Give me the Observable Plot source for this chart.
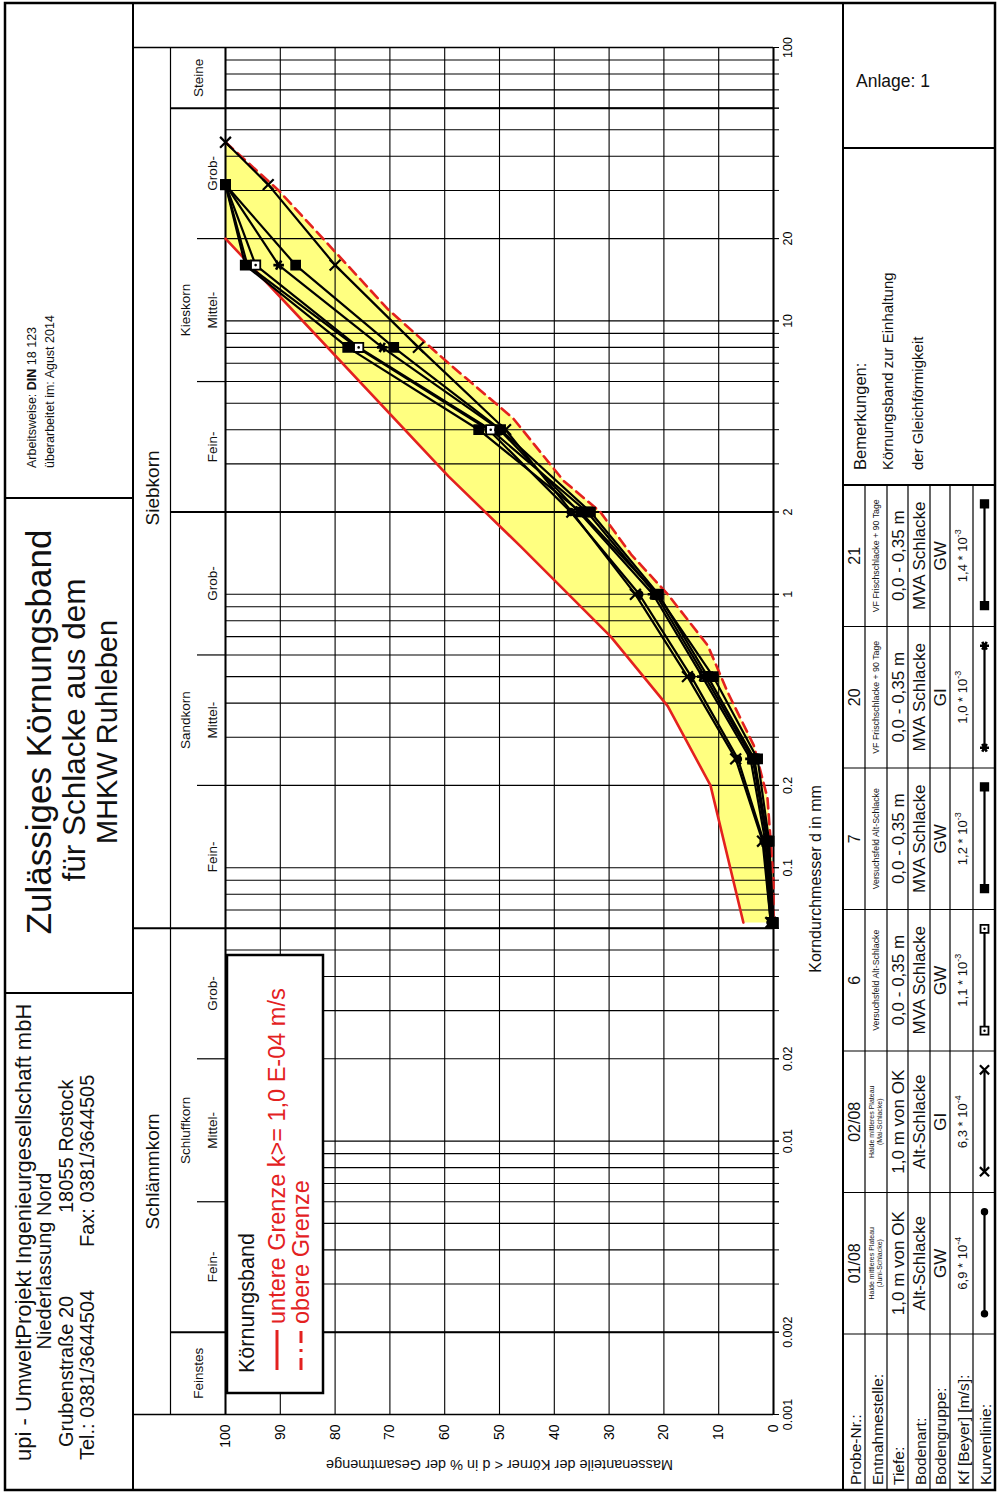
<!DOCTYPE html>
<html>
<head>
<meta charset="utf-8">
<script src="https://cdn.jsdelivr.net/npm/d3@7"></script>
<script src="https://cdn.jsdelivr.net/npm/@observablehq/plot@0.6"></script>
<style>
html,body{margin:0;padding:0;background:#fff;width:997px;height:1494px;overflow:hidden;}
#page{position:absolute;left:0;top:0;width:1494px;height:997px;transform-origin:0 0;transform:translate(0px,1494px) rotate(-90deg);background:#fff;font-family:"Liberation Sans",Arial,Helvetica,sans-serif;}
#page svg{position:absolute;left:0;top:0;overflow:visible;}
#chart{position:absolute;left:5px;top:133px;width:1486px;height:710px;}
#chart svg{position:absolute;left:0;top:0;}
.cell{position:absolute;}
</style>
</head>
<body>
<div id="page"><div id="chart"></div></div>
<script>
// ---------------- DATA ----------------
const diamTicks = [0.001,0.002,0.006,0.01,0.02,0.06,0.1,0.2,0.6,1,2,6,10,20,60,100];
const gridMantissas = [1,2,3,4,5,6,7,8,9];
const gridDecades = [0.001,0.01,0.1,1,10];
const percentTicks = [0,10,20,30,40,50,60,70,80,90,100];
const mainBounds = [0.002,2,60];
const siltSandBound = [0.06];
const subBounds = [0.006,0.02,0.2,0.6,6,20];

const groupLabels = ["Schlämmkorn","Siebkorn"];
const groupFrom = [0.001,0.06];
const groupTo = [0.06,100];
const fractionLabels = ["Schluffkorn","Sandkorn","Kieskorn"];
const fractionFrom = [0.002,0.06,2];
const fractionTo = [0.06,2,60];
const spanLabels = ["Feinstes","Steine"];
const spanFrom = [0.001,60];
const spanTo = [0.002,100];
const subLabels = ["Fein-","Mittel-","Grob-","Fein-","Mittel-","Grob-","Fein-","Mittel-","Grob-"];
const subFrom = [0.002,0.006,0.02,0.06,0.2,0.6,2,6,20];
const subTo = [0.006,0.02,0.06,0.2,0.6,2,6,20,60];

// Körnungsband limits
const lowerLimitD = [20, 2.7, 1.5, 0.7, 0.39, 0.2, 0.063];
const lowerLimitP = [100, 59.3, 46.2, 29.7, 19.3, 11.5, 5.5];
const upperLimitD = [45, 30, 11, 7, 4.4, 2.6, 2.0, 1.4, 1.0, 0.65, 0.44, 0.28, 0.18, 0.09, 0.063];
const upperLimitP = [100, 90.3, 70.3, 59.3, 47.5, 38.3, 31.6, 26, 19.3, 12, 8.4, 3.6, 1.1, 0, 0];

// samples
const sieves = [45, 31.5, 16, 8, 4, 2, 1, 0.5, 0.25, 0.125, 0.063];
const sampleIds = ["01/08","02/08","6","7","20","21"];
const s0108 = [null, 100, 96, 76, 52, 37, 24.5, 15, 6.5, 1.8, 0.5];
const s0208 = [100, 92.2, 80, 64.8, 48.9, 36.8, 25.2, 15.7, 6.9, 2, 0.5];
const s6    = [null, 100, 94.5, 75.7, 51.6, 34, 21.5, 12.5, 3.8, 1.2, 0.2];
const s7    = [null, 100, 96.4, 77.7, 53.8, 35.2, 21.2, 11, 2.9, 0.8, 0];
const s20   = [null, 100, 90.3, 71.4, 50, 35.5, 22, 13, 4.2, 1.5, 0.3];
const s21   = [null, 100, 87.2, 69.3, 49.8, 33.4, 21, 12, 3.5, 1, 0.2];
const sampleValues = [s0108, s0208, s6, s7, s20, s21];
const sampleSymbols = ["circle","times","square","square","asterisk","square"];

// table
const rowLabels = ["Probe-Nr.:","Entnahmestelle:","Tiefe:","Bodenart:","Bodengruppe:","Kf [Beyer] [m/s]:","Kurvenlinie:"];
const entnahme = [["Halde mittleres Plateau","(Juni-Schlacke)"],["Halde mittleres Plateau","(Mai-Schlacke)"],["Versuchsfeld Alt-Schlacke"],["Versuchsfeld Alt-Schlacke"],["VF Frischschlacke + 90 Tage"],["VF Frischschlacke + 90 Tage"]];
const tiefe = ["1,0 m von OK","1,0 m von OK","0,0 - 0,35 m","0,0 - 0,35 m","0,0 - 0,35 m","0,0 - 0,35 m"];
const bodenart = ["Alt-Schlacke","Alt-Schlacke","MVA Schlacke","MVA Schlacke","MVA Schlacke","MVA Schlacke"];
const bodengruppe = ["GW","GI","GW","GW","GI","GW"];
const kfMant = ["6,9","6,3","1,1","1,2","1,0","1,4"];
const kfExp = ["-4","-4","-3","-3","-3","-3"];

const legendTitle = "Körnungsband";
const legendLower = "untere Grenze k>= 1,0 E-04 m/s";
const legendUpper = "obere Grenze";
const xLabel = "Korndurchmesser d in mm";
const yLabel = "Massenanteile der Körner < d in % der Gesamtmenge";

// ---------------- PAGE FRAME (landscape coordinates) ----------------
const FONT = '"Liberation Sans", Arial, Helvetica, sans-serif';
const RED = "#e3211f";
const page = d3.select("#page");
const bg = page.insert("svg", "#chart").attr("width",1494).attr("height",997);
function L(s,x1,y1,x2,y2,w=1){ s.append("line").attr("x1",x1).attr("y1",y1).attr("x2",x2).attr("y2",y2).attr("stroke","#000").attr("stroke-width",w); }
function T(s,str,x,y,size,anchor="start",extra={}){
  const t = s.append("text").attr("x",x).attr("y",y).attr("font-size",size).attr("text-anchor",anchor)
    .attr("font-family",FONT).attr("fill",extra.fill||"#111").text(str);
  if(extra.weight) t.attr("font-weight",extra.weight);
  if(extra.rotate) t.attr("transform",`rotate(${extra.rotate},${x},${y})`);
  return t;
}
// outer border
bg.append("rect").attr("x",4).attr("y",5).attr("width",1487).attr("height",990).attr("fill","none").attr("stroke","#000").attr("stroke-width",2.5);
L(bg,4,133,1491,133,2);
L(bg,4,843,1491,843,2);
L(bg,501,5,501,133,2);
L(bg,996,5,996,133,2);

// header: company
T(bg,"upi - UmweltProjekt Ingenieurgesellschaft mbH",33,31,22);
T(bg,"Niederlassung Nord",233,51,20,"middle");
T(bg,"Grubenstraße 20",47,73,20);
T(bg,"18055 Rostock",281,73,20);
T(bg,"Tel.: 0381/3644504",34,94,20);
T(bg,"Fax: 0381/3644505",247,94,20);
// header: title
T(bg,"Zulässiges Körnungsband",762,51,35,"middle");
T(bg,"für Schlacke aus dem",764,85,31.5,"middle");
T(bg,"MHKW Ruhleben",762,117,29,"middle");
// header: right
{
  const t = T(bg,"",1026,36,12.5);
  t.append("tspan").text("Arbeitsweise:  ");
  t.append("tspan").attr("font-weight","bold").text("DIN");
  t.append("tspan").text(" 18 123");
  T(bg,"überarbeitet im:  Agust 2014",1026,54,12.5);
}

// table
const colEdges = [4,160,301.5,443,584.5,726,867.5,1009];
const rowEdges = [843,865,887,908,930,950,973,995];
for(let i=1;i<rowEdges.length-1;i++) L(bg,4,rowEdges[i],1009,rowEdges[i],1.2);
for(let j=1;j<colEdges.length;j++) L(bg,colEdges[j],843,colEdges[j],995,j===colEdges.length-1?2:1.2);
L(bg,1346,843,1346,995,2);
rowLabels.forEach((s,i)=>T(bg,s,9,rowEdges[i+1]-4,15.5));
const rowMid = i => (rowEdges[i]+rowEdges[i+1])/2;
sampleIds.forEach((id,j)=>{
  const cx = (colEdges[j+1]+colEdges[j+2])/2;
  T(bg,id,cx,rowMid(0)+6,16,"middle");
  const e = entnahme[j];
  if(e.length===2){ T(bg,e[0],cx,rowMid(1)-2,7,"middle"); T(bg,e[1],cx,rowMid(1)+6,7,"middle"); }
  else T(bg,e[0],cx,rowMid(1)+3,8.8,"middle");
  T(bg,tiefe[j],cx,rowMid(2)+6,17,"middle");
  T(bg,bodenart[j],cx,rowMid(3)+6,17,"middle");
  T(bg,bodengruppe[j],cx,rowMid(4)+6,17,"middle");
  const k = T(bg,"",cx,rowMid(5)+5,13,"middle");
  k.append("tspan").text(kfMant[j]+" * 10");
  k.append("tspan").attr("font-size",9).attr("dy",-6).text(kfExp[j]);
});
// Bemerkungen / Anlage
T(bg,"Bemerkungen:",1024,866,16.5);
T(bg,"Körnungsband zur Einhaltung",1024,893,15);
T(bg,"der Gleichförmigkeit",1024,923,15);
T(bg,"Anlage: 1",1407,856,17.5,"start",{rotate:90});

// ---------------- CHART ----------------
const W=1486, H=710, mL=74, mR=45, mT=92, mB=70;
const pxPerPct = (H-mB-mT)/100;
const hy = px => 100 + (mT - px)/pxPerPct;   // header rows above the frame
const gridDiam = gridDecades.flatMap(dec => gridMantissas.map(m => +(m*dec).toPrecision(3))).concat([100]);
const pts = (ds,ps) => ds.map((d,i)=>({d,p:ps[i]})).filter(o=>o.p!==null);
const lowerPts = pts(lowerLimitD,lowerLimitP);
const upperPts = pts(upperLimitD,upperLimitP);
const bandPoly = lowerPts.concat(upperPts.slice().reverse());
const geo = (a,b)=>Math.sqrt(a*b);

const sampleMarks = [];
sampleIds.forEach((id,j)=>{
  const P = pts(sieves, sampleValues[j]);
  sampleMarks.push(Plot.line(P,{x:"d",y:"p",stroke:"#000",strokeWidth:2.2}));
});
function dotMarks(P, sym, scale=1){
  if(sym==="circle") return [Plot.dot(P,{x:"d",y:"p",r:3.5*scale,fill:"#000",stroke:"#000"})];
  if(sym==="times") return [Plot.dot(P,{x:"d",y:"p",symbol:"times",r:5*scale,stroke:"#000",strokeWidth:2.2})];
  if(sym==="asterisk") return [Plot.dot(P,{x:"d",y:"p",symbol:"asterisk",r:5*scale,stroke:"#000",strokeWidth:2.6})];
  if(sym==="square") return [Plot.dot(P,{x:"d",y:"p",symbol:"square",r:5.2*scale,fill:"#000",stroke:"#000"})];
  return [];
}
sampleIds.forEach((id,j)=>{
  const P = pts(sieves, sampleValues[j]);
  if(id==="6"){
    sampleMarks.push(Plot.dot(P,{x:"d",y:"p",symbol:"square",r:5.2,fill:"#fff",stroke:"#000",strokeWidth:1.8}));
    sampleMarks.push(Plot.dot(P,{x:"d",y:"p",r:1.3,fill:"#000"}));
  } else sampleMarks.push(...dotMarks(P, sampleSymbols[j]));
});

const hdr = (labels,from,to,pxY,size)=>Plot.text(labels.map((t,i)=>({t,x:geo(from[i],to[i]),y:hy(pxY)})),
  {x:"x",y:"y",text:"t",fontSize:size,fill:"#111",textAnchor:"middle",lineAnchor:"middle"});

const chart = Plot.plot({
  width:W, height:H, marginLeft:mL, marginRight:mR, marginTop:mT, marginBottom:mB,
  x:{type:"log", domain:[0.001,100]},
  y:{domain:[0,100]},
  style:{fontFamily:FONT, background:"transparent", overflow:"visible", color:"#000"},
  marks:[
    Plot.line(bandPoly,{x:"d",y:"p",fill:"#ffff80",stroke:"none"}),
    Plot.ruleX(gridDiam,{y1:0,y2:100,stroke:"#000",strokeWidth:1.1}),
    Plot.ruleY(percentTicks,{x1:0.001,x2:100,stroke:"#000",strokeWidth:1.1}),
    Plot.ruleY([0,100],{x1:0.001,x2:100,stroke:"#000",strokeWidth:2}),
    Plot.ruleX(siltSandBound,{y1:0,y2:hy(0),stroke:"#000",strokeWidth:2}),
    Plot.ruleX(mainBounds,{y1:0,y2:hy(37),stroke:"#000",strokeWidth:2}),
    Plot.ruleX([0.001,100],{y1:0,y2:hy(0),stroke:"#000",strokeWidth:1.5}),
    Plot.ruleX(subBounds,{y1:100,y2:hy(64),stroke:"#000",strokeWidth:1.2}),
    Plot.ruleY([hy(37)],{x1:0.001,x2:100,stroke:"#000",strokeWidth:1.2}),
    hdr(groupLabels,groupFrom,groupTo,19,19),
    hdr(fractionLabels,fractionFrom,fractionTo,52,13.5),
    hdr(spanLabels,spanFrom,spanTo,65,13.5),
    hdr(subLabels,subFrom,subTo,79,13.5),
    Plot.line(lowerPts,{x:"d",y:"p",stroke:RED,strokeWidth:2.6}),
    Plot.line(upperPts,{x:"d",y:"p",stroke:RED,strokeWidth:2.6,strokeDasharray:"10,6"}),
    ...sampleMarks,
    Plot.axisX(gridDiam,{tickSize:6,tickFormat:()=>"",label:null}),
    Plot.axisX(diamTicks,{tickSize:6,tickPadding:4,fontSize:12.5,tickFormat:d=>String(d),label:null}),
    Plot.axisY(percentTicks,{tickSize:0,tickPadding:10,fontSize:14,label:null}),
    Plot.text([{t:xLabel,x:0.091,y:0}],{x:"x",y:"y",text:"t",dy:42,fontSize:16,fill:"#111"}),
    Plot.text([{t:yLabel}],{frameAnchor:"left",textAnchor:"middle",text:"t",rotate:-90,dx:-50,fontSize:14.5,fill:"#111"})
  ]
});
document.getElementById("chart").appendChild(chart);

// ---------------- LEGEND (overlay) ----------------
const lg = page.append("svg").attr("width",1494).attr("height",997);
lg.append("rect").attr("x",101).attr("y",227).attr("width",438).attr("height",96).attr("fill","#fff").attr("stroke","#000").attr("stroke-width",2.5);
T(lg,legendTitle,121,254,21.5,"start",{fill:"#111"});
lg.append("line").attr("x1",124).attr("y1",277).attr("x2",164).attr("y2",277).attr("stroke",RED).attr("stroke-width",3);
T(lg,legendLower,170,285,23.5,"start",{fill:RED});
lg.append("line").attr("x1",124).attr("y1",301).attr("x2",164).attr("y2",301).attr("stroke",RED).attr("stroke-width",3).attr("stroke-dasharray","12,6,3,6");
T(lg,legendUpper,170,309,23.5,"start",{fill:RED});

// ---------------- Kurvenlinie cells ----------------
sampleIds.forEach((id,j)=>{
  const x0 = colEdges[j+1], x1 = colEdges[j+2];
  const w = x1-x0, h = rowEdges[7]-rowEdges[6];
  const ends = [{d:0.14,p:0.5},{d:0.86,p:0.5}];
  let dm;
  if(id==="6") dm = [Plot.dot(ends,{x:"d",y:"p",symbol:"square",r:4.5,fill:"#fff",stroke:"#000",strokeWidth:1.8}),Plot.dot(ends,{x:"d",y:"p",r:1.2,fill:"#000"})];
  else dm = dotMarks(ends, sampleSymbols[j], 0.85);
  const p = Plot.plot({width:w,height:h,margin:0,x:{domain:[0,1]},y:{domain:[0,1]},axis:null,
    style:{background:"transparent",overflow:"visible"},
    marks:[Plot.line(ends,{x:"d",y:"p",stroke:"#000",strokeWidth:2.2}),...dm]});
  const div = document.createElement("div");
  div.className="cell";
  div.style.left = x0+"px"; div.style.top = rowEdges[6]+"px"; div.style.width=w+"px"; div.style.height=h+"px";
  p.style.position="absolute"; p.style.left="0"; p.style.top="0";
  div.appendChild(p);
  document.getElementById("page").appendChild(div);
});
</script>
</body>
</html>
